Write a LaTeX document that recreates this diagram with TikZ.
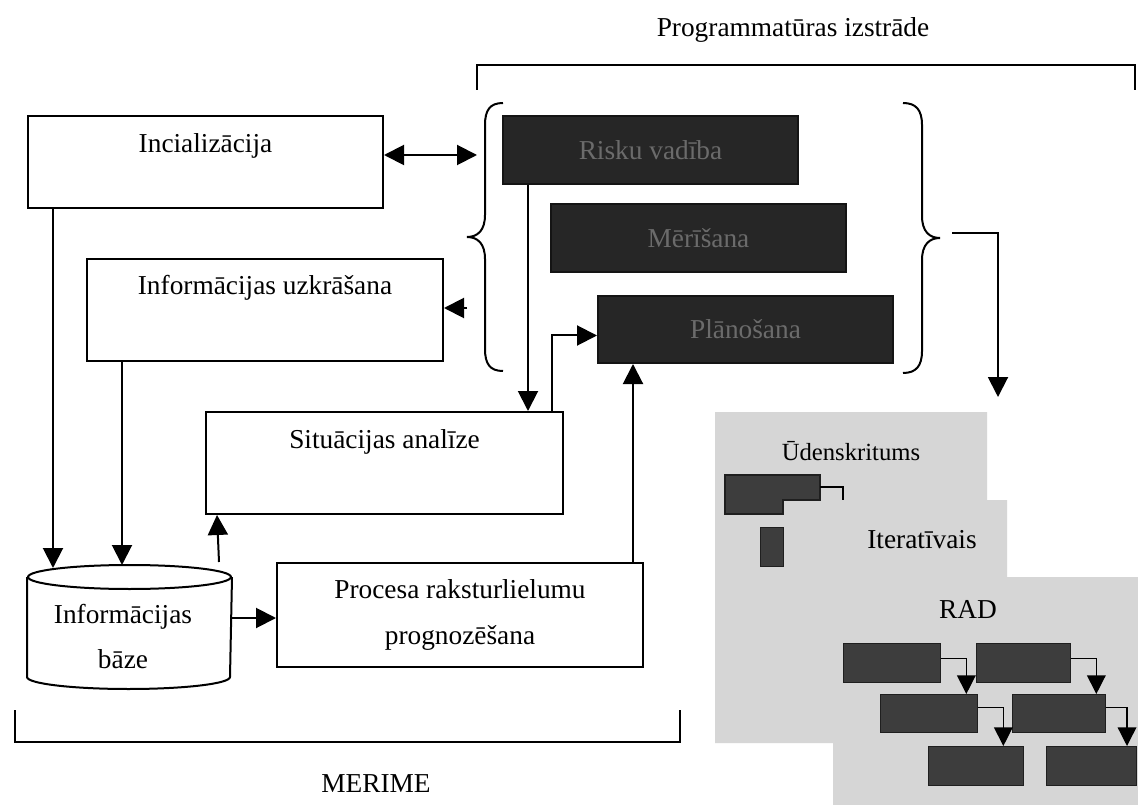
\documentclass[tikz,border=0pt]{standalone}
\usepackage{fontspec}
\setmainfont{Liberation Serif}
\usetikzlibrary{arrows.meta}
\newdimen\pxu \pxu=0.75pt
\begin{document}
\begin{tikzpicture}[x=0.75pt,y=-0.75pt,
  line width=1.5pt,
  every node/.style={font=\fontsize{20.5}{35}\selectfont},
  wbox/.style={draw, fill=white, inner sep=0pt, anchor=north west, align=center},
  dbox/.style={draw=black!92, fill=black!85, text=black!58, inner sep=0pt, anchor=north west},
  sbox/.style={draw=black!88, fill=black!76, line width=1pt, inner sep=0pt, anchor=north west},
  arr/.style={-{Triangle[length=15pt,width=15pt]}},
  darr/.style={{Triangle[length=15pt,width=15pt]}-{Triangle[length=15pt,width=15pt]}},
  rarr/.style={line width=1pt,-{Triangle[length=14pt,width=14pt]}},
  brack/.style={line width=1.3pt},
  lbl/.style={anchor=base, inner sep=0pt}
]
\fill[white] (0,0) rectangle (1138,805);
\useasboundingbox (0,0) rectangle (1138,805);

% shaded panel with the life-cycle models
\fill[black!16] (715,412) -- (987,412) -- (987,500) -- (1007,500) -- (1007,577)
  -- (1138,577) -- (1138,805) -- (833,805) -- (833,743) -- (715,743) -- cycle;

% group brackets and their titles
\node[lbl] (ptitle) at (793,37) {Programmatūras izstrāde};
\draw[brack] (477,90) -- (477,65) -- (1135,65) -- (1135,90);
\node[lbl] (mtitle) at (376,792) {MERIME};
\draw[brack] (15,710) -- (15,742) -- (680,742) -- (680,710);

% MERIME steps
\node[wbox, minimum width=355\pxu, text height=37\pxu, text depth=55\pxu] (inc) at (27,115) {Incializācija};
\node[wbox, minimum width=356\pxu, text height=36\pxu, text depth=66\pxu] (uzk) at (86,258) {Informācijas uzkrāšana};
\node[wbox, minimum width=357\pxu, text height=36\pxu, text depth=66\pxu] (sit) at (205,411) {Situācijas analīze};
\node[wbox, minimum width=366\pxu, minimum height=104\pxu, anchor=center] (proc) at (460,615)
  {Procesa raksturlielumu\\prognozēšana};

% information base (cylinder)
\node[inner sep=0pt, anchor=north west, minimum width=203\pxu, minimum height=98\pxu] (db) at (27,577) {};
\draw[fill=white] (db.north west) -- (db.south west)
  arc[start angle=180, end angle=360, x radius=101.5\pxu, y radius=12\pxu] -- (db.north east);
\draw (db.north) ellipse [x radius=101.5\pxu, y radius=12\pxu];
\node[align=center, font=\fontsize{20.5}{33.75}\selectfont] (dbt) at (123,637) {Informācijas\\bāze};

% software development activities
\node[dbox, minimum width=295\pxu, minimum height=68\pxu] (risk) at (502,115) {Risku vadība};
\node[dbox, minimum width=295\pxu, minimum height=68\pxu] (mer) at (550,203) {Mērīšana};
\node[dbox, minimum width=295\pxu, minimum height=67\pxu] (plan) at (597,295) {Plānošana};

% curly braces around the activities
\draw (503,103) .. controls (490,103) and (485,110) .. (485,125) -- (485,215)
  .. controls (485,230) and (478,237) .. (467,237)
  .. controls (478,237) and (485,244) .. (485,259) -- (485,349)
  .. controls (485,364) and (490,371) .. (503,371);
\draw (903,103) .. controls (916,103) and (922,110) .. (922,125) -- (922,216)
  .. controls (922,231) and (929,238) .. (940,238)
  .. controls (929,238) and (922,245) .. (922,260) -- (922,351)
  .. controls (922,366) and (916,373) .. (903,373);
\coordinate (da) at (477,155);
\coordinate (bl) at (467,308);
\coordinate (br) at (952,233);
\coordinate (gtop) at (998,397);

% connectors
\draw[darr] (da -| inc.east) -- (da);
\draw[arr] (bl) -- (bl -| uzk.east);
\draw[arr] ([xshift=26\pxu]inc.south west) -- ([xshift=26\pxu,yshift=9\pxu]db.north west);
\draw[arr] ([xshift=36\pxu]uzk.south west) -- ([xshift=95\pxu,yshift=12\pxu]db.north west);
\draw[arr] ([xshift=-13\pxu,yshift=15\pxu]db.north east) -- ([xshift=12\pxu]sit.south west);
\draw[arr] ([yshift=9\pxu]db.east) -- ([yshift=9\pxu]db.east -| proc.west);
\draw[arr] ([xshift=26\pxu]risk.south west) -- ([xshift=26\pxu]risk.south west |- sit.north);
\draw[arr] ([xshift=-12\pxu]sit.north east) |- ([yshift=-6\pxu]plan.west);
\draw[arr] ([xshift=-11\pxu]proc.north east) -- ([xshift=-11\pxu]proc.north east |- plan.south);
\draw[arr] (br) -| (gtop);

% waterfall model
\node[lbl, font=\fontsize{18.5}{22}\selectfont] (wft) at (851,460) {Ūdenskritums};
\fill[black!76, draw=black!88, line width=1pt] (725,475) -- (820,475) -- (820,500) -- (783,500)
  -- (783,514) -- (725,514) -- cycle;
\coordinate (wfe) at (820,487);
\coordinate (wfd) at (843,500);
\draw[line width=1pt] (wfe) -| (wfd);
\node[sbox, minimum width=23\pxu, minimum height=39\pxu] (wc) at (760,527) {};

% iterative model
\node[lbl] (itt) at (922,548) {Iteratīvais};

% RAD model
\node[lbl] (radt) at (968,618) {RAD};
\node[sbox, minimum width=97\pxu, minimum height=39\pxu] (ra) at (843,643) {};
\node[sbox, minimum width=94\pxu, minimum height=39\pxu] (rb) at (976,643) {};
\node[sbox, minimum width=97\pxu, minimum height=38\pxu] (rc) at (880,694) {};
\node[sbox, minimum width=93\pxu, minimum height=38\pxu] (rd) at (1012,694) {};
\node[sbox, minimum width=95\pxu, minimum height=39\pxu] (re) at (928,746) {};
\node[sbox, minimum width=90\pxu, minimum height=39\pxu] (rf) at (1046,746) {};
\draw[rarr] ([yshift=5\pxu]ra.east) -| ([xshift=-12\pxu]rc.north east);
\draw[rarr] ([yshift=5\pxu]rb.east) -| ([xshift=-10\pxu]rd.north east);
\draw[rarr] ([yshift=6\pxu]rc.east) -| ([xshift=-21\pxu]re.north east);
\draw[rarr] ([yshift=6\pxu]rd.east) -| ([xshift=81\pxu]rf.north west);
\end{tikzpicture}
\end{document}
